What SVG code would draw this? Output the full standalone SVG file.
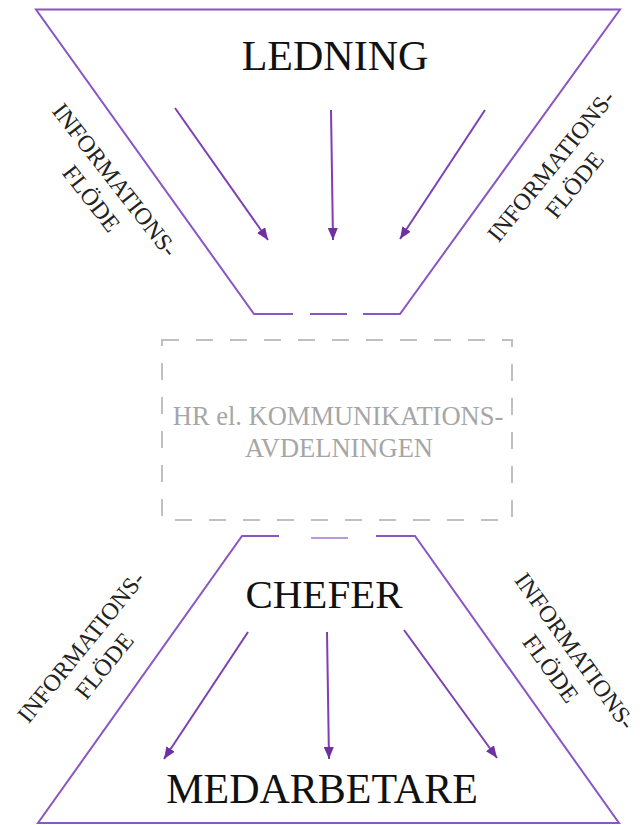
<svg xmlns="http://www.w3.org/2000/svg" width="640" height="825" viewBox="0 0 640 825">
<defs>
<marker id="ah" viewBox="0 0 12 10" refX="12" refY="5" markerWidth="12" markerHeight="10" markerUnits="userSpaceOnUse" orient="auto">
<path d="M0,0 L12,5 L0,10 Z" fill="#7030a0"/>
</marker>
<style>
.edge{fill:none;stroke:#8a55c4;stroke-width:2}
.arr{fill:none;stroke:#7d3fb3;stroke-width:2;marker-end:url(#ah)}
.big{font-family:"Liberation Serif","Times New Roman",serif;font-size:42px;fill:#111;text-anchor:middle}
.lbl{font-family:"Liberation Serif","Times New Roman",serif;font-size:24px;fill:#222;text-anchor:middle}
.hr{font-family:"Liberation Serif","Times New Roman",serif;font-size:26.5px;fill:#a6a6a6;text-anchor:middle}
</style>
</defs>
<rect width="640" height="825" fill="#fff"/>

<g id="ledning">
<path class="edge" d="M293,314 L254,314 L36,9.5 L620,9.5 L400,314 L363,314"/>
<line class="edge" x1="310" y1="314" x2="347" y2="314"/>
<text class="big" x="335" y="70">LEDNING</text>
</g>

<g id="hr">
<rect x="162" y="340" width="350" height="180" fill="none" stroke="#c0c0c0" stroke-width="2" stroke-dasharray="17 17"/>
<text class="hr" x="338" y="425">HR el. KOMMUNIKATIONS-</text>
<text class="hr" x="339" y="457">AVDELNINGEN</text>
</g>

<g id="chefer">
<path class="edge" d="M279,536 L242,536 L38,823 L619,823 L415,536 L376,536"/>
<line class="edge" x1="311" y1="538" x2="348" y2="538" stroke-opacity="0.6"/>
<text class="big" x="324" y="608" style="font-size:41px">CHEFER</text>
</g>

<g id="medarbetare">
<text class="big" x="322" y="803">MEDARBETARE</text>
</g>

<g id="labels">
<g transform="translate(115,180) rotate(52)"><text class="lbl" x="0" y="8">INFORMATIONS-</text><text class="lbl" x="0" y="38">FLÖDE</text></g>
<g transform="translate(551,166) rotate(-51)"><text class="lbl" x="0" y="8">INFORMATIONS-</text><text class="lbl" x="0" y="38">FLÖDE</text></g>
<g transform="translate(81,647) rotate(-51)"><text class="lbl" x="0" y="8">INFORMATIONS-</text><text class="lbl" x="0" y="38">FLÖDE</text></g>
<g transform="translate(575,651) rotate(54)"><text class="lbl" x="0" y="8">INFORMATIONS-</text><text class="lbl" x="0" y="38">FLÖDE</text></g>
</g>

<g id="connectors">
<line class="arr" x1="175" y1="108" x2="268" y2="240"/>
<line class="arr" x1="331" y1="110" x2="333" y2="240"/>
<line class="arr" x1="485" y1="110" x2="400" y2="239"/>
<line class="arr" x1="248" y1="632" x2="164" y2="759"/>
<line class="arr" x1="327" y1="632" x2="329" y2="759"/>
<line class="arr" x1="404" y1="630" x2="497" y2="758"/>
</g>
</svg>
